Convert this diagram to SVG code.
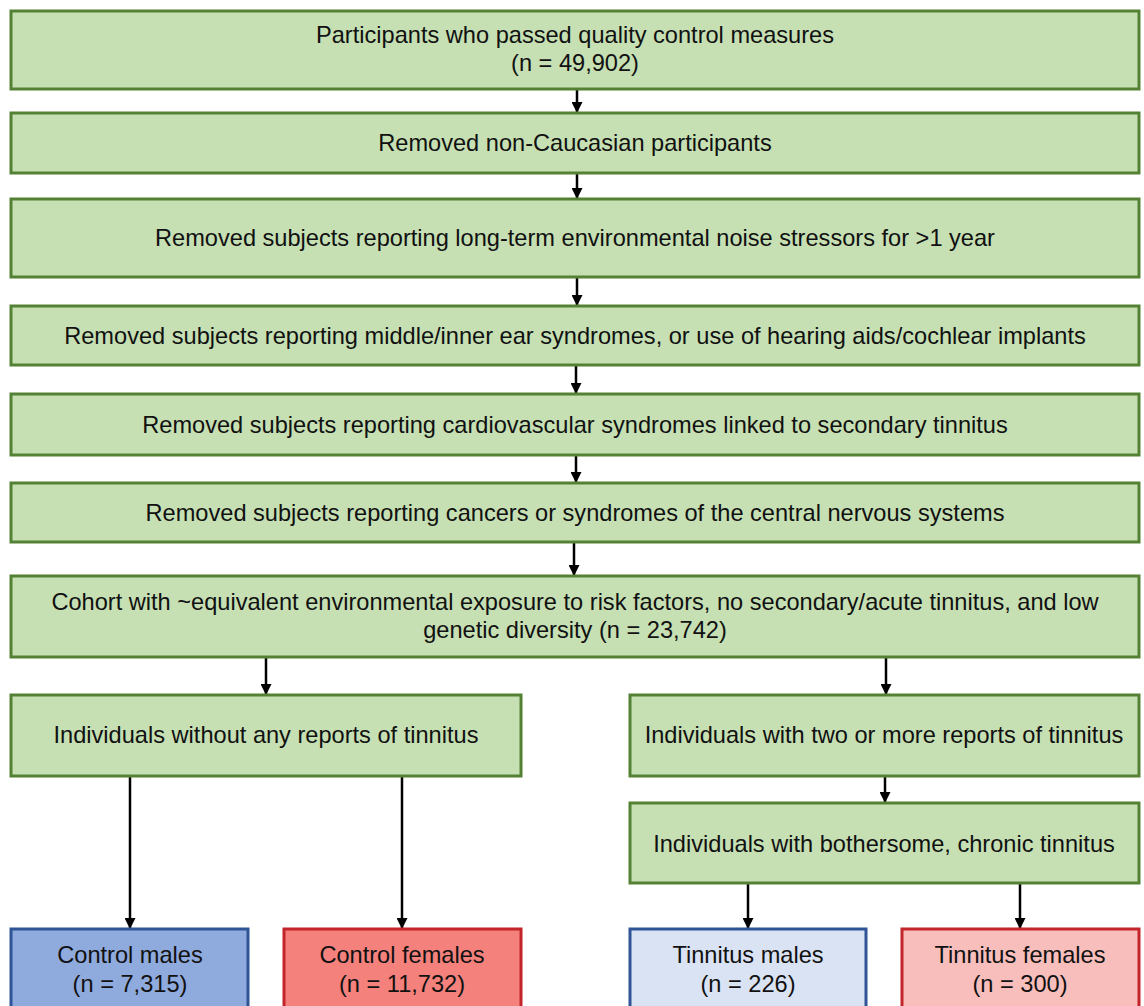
<svg xmlns="http://www.w3.org/2000/svg" width="1144" height="1006" viewBox="0 0 1144 1006">
<defs>
<marker id="ah" viewBox="0 0 10 10" refX="10" refY="5" markerWidth="11" markerHeight="11" markerUnits="userSpaceOnUse" orient="auto">
<path d="M0,0 L10,5 L0,10 z" fill="#000"/>
</marker>
<style>
text{font-family:"Liberation Sans",Arial,Helvetica,sans-serif;font-size:23.6px;fill:#111;text-anchor:middle}
.g{fill:#c6e0b4;stroke:#548235;stroke-width:3}
.bm{fill:#8faadc;stroke:#2f5597;stroke-width:3}
.rf{fill:#f4817c;stroke:#c4252b;stroke-width:3}
.lb{fill:#dae3f3;stroke:#2f5597;stroke-width:3}
.lr{fill:#f8bebb;stroke:#c4252b;stroke-width:3}
.c line{stroke:#000;stroke-width:2.5;marker-end:url(#ah)}
</style>
</defs>
<rect width="1144" height="1006" fill="#fff"/>
<g class="c" id="connectors">
<line x1="577" y1="89" x2="577" y2="113"/>
<line x1="577" y1="173" x2="577" y2="199"/>
<line x1="577" y1="277" x2="577" y2="306"/>
<line x1="576" y1="365" x2="576" y2="394"/>
<line x1="576" y1="455" x2="576" y2="483"/>
<line x1="574" y1="542" x2="574" y2="576"/>
<line x1="266" y1="657" x2="266" y2="695"/>
<line x1="886" y1="657" x2="886" y2="695"/>
<line x1="130" y1="776" x2="130" y2="929"/>
<line x1="402" y1="776" x2="402" y2="929"/>
<line x1="885" y1="776" x2="885" y2="803"/>
<line x1="748" y1="883" x2="748" y2="929"/>
<line x1="1020" y1="883" x2="1020" y2="929"/>
</g>
<g id="n1"><rect class="g" x="11" y="11" width="1128" height="78"/><text x="575" y="43">Participants who passed quality control measures</text><text x="575" y="71">(n = 49,902)</text></g>
<g id="n2"><rect class="g" x="11" y="113" width="1128" height="60"/><text x="575" y="151">Removed non-Caucasian participants</text></g>
<g id="n3"><rect class="g" x="11" y="199" width="1128" height="78"/><text x="575" y="246">Removed subjects reporting long-term environmental noise stressors for &gt;1 year</text></g>
<g id="n4"><rect class="g" x="11" y="306" width="1128" height="59"/><text x="575" y="344">Removed subjects reporting middle/inner ear syndromes, or use of hearing aids/cochlear implants</text></g>
<g id="n5"><rect class="g" x="11" y="394" width="1128" height="61"/><text x="575" y="433">Removed subjects reporting cardiovascular syndromes linked to secondary tinnitus</text></g>
<g id="n6"><rect class="g" x="11" y="483" width="1128" height="59"/><text x="575" y="521">Removed subjects reporting cancers or syndromes of the central nervous systems</text></g>
<g id="n7"><rect class="g" x="11" y="576" width="1128" height="81"/><text x="575" y="610">Cohort with ~equivalent environmental exposure to risk factors, no secondary/acute tinnitus, and low</text><text x="575" y="638">genetic diversity (n = 23,742)</text></g>
<g id="n8"><rect class="g" x="11" y="695" width="510" height="81"/><text x="266" y="743">Individuals without any reports of tinnitus</text></g>
<g id="n9"><rect class="g" x="630" y="695" width="509" height="81"/><text x="884" y="743">Individuals with two or more reports of tinnitus</text></g>
<g id="n10"><rect class="g" x="630" y="803" width="509" height="80"/><text x="884" y="852">Individuals with bothersome, chronic tinnitus</text></g>
<g id="n11"><rect class="bm" x="11" y="929" width="237" height="90"/><text x="130" y="963">Control males</text><text x="130" y="992">(n = 7,315)</text></g>
<g id="n12"><rect class="rf" x="284" y="929" width="237" height="90"/><text x="402" y="963">Control females</text><text x="402" y="992">(n = 11,732)</text></g>
<g id="n13"><rect class="lb" x="630" y="929" width="236" height="90"/><text x="748" y="963">Tinnitus males</text><text x="748" y="992">(n = 226)</text></g>
<g id="n14"><rect class="lr" x="902" y="929" width="237" height="90"/><text x="1020" y="963">Tinnitus females</text><text x="1020" y="992">(n = 300)</text></g>
</svg>
